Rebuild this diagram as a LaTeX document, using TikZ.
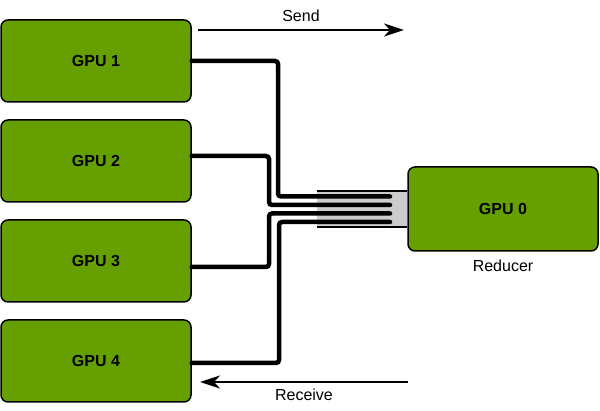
\documentclass[tikz,border=0pt]{standalone}
\usepackage{fontspec}
\setmainfont{Liberation Sans}
\usetikzlibrary{positioning,arrows.meta}
\definecolor{gpugreen}{HTML}{66A000}
\definecolor{busgray}{HTML}{CCCCCC}

\begin{document}
\begin{tikzpicture}[x=1pt,y=-1pt,font=\fontsize{16}{19}\selectfont,
  gpu/.style={draw=black,line width=1.5pt,rounded corners=7pt,fill=gpugreen,
    minimum width=190pt,minimum height=82pt,font=\fontsize{16}{19}\selectfont\bfseries},
  wire/.style={line width=4.5pt,rounded corners=3pt,line cap=round},
  flow/.style={line width=2.4pt,-{Stealth[length=20pt,width=13pt,inset=6pt]}}]
  \useasboundingbox (0,0) rectangle (600,411);
  % senders
  \node[gpu] (g1) at (96,61) {GPU 1};
  \node[gpu,below=16.5pt of g1] (g2) {GPU 2};
  \node[gpu,below=16.5pt of g2] (g3) {GPU 3};
  \node[gpu,below=16.5pt of g3] (g4) {GPU 4};
  % reducer
  \node[gpu,minimum height=84pt] (g0) at (503,209) {GPU 0};
  \node[below=5pt of g0] (red) {Reducer};
  % bus
  \fill[busgray] (317,191) rectangle (g0.west |- 0,227);
  \draw[line width=1.2pt] (317,191) -- (g0.west |- 0,191);
  \draw[line width=1.2pt] (317,227) -- (g0.west |- 0,227);
  \coordinate (b1) at (390,196.5);
  \coordinate (b2) at (390,205);
  \coordinate (b3) at (390,213.5);
  \coordinate (b4) at (390,222);
  \draw[wire] (g1.east) -| (278,196.5) -- (b1);
  \draw[wire] ([yshift=5pt]g2.east) -| (269,205) -- (b2);
  \draw[wire] ([yshift=-6pt]g3.east) -| (269,213.5) -- (b3);
  \draw[wire] ([yshift=-2pt]g4.east) -| (279,222) -- (b4);
  % directions
  \coordinate (s0) at (198,30);
  \coordinate (s1) at (404,30);
  \draw[flow] (s0) -- node[above=4pt] (send) {Send} (s1);
  \coordinate (r0) at (408,382);
  \coordinate (r1) at (200,382);
  \draw[flow] (r0) -- node[below=2pt] (recv) {Receive} (r1);
\end{tikzpicture}
\end{document}
